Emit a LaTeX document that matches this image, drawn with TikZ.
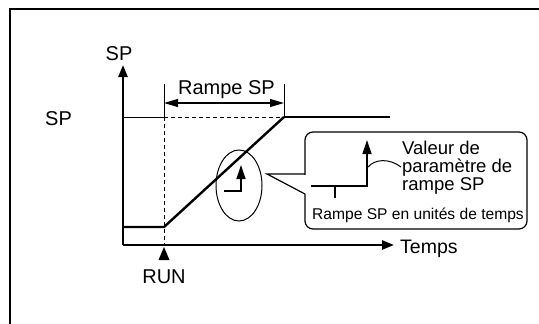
\documentclass[tikz,border=0pt]{standalone}
\usepackage{fontspec}
\setmainfont{Liberation Sans}
\usetikzlibrary{arrows.meta}
\newcommand\myfs[1]{\fontsize{#1}{#1}\selectfont}
\tikzset{
  thickln/.style={line width=2.4pt},
  thinln/.style={line width=1pt},
  dashln/.style={line width=1pt, dash pattern=on 4pt off 3pt},
  axisarrow/.style={thickln, -{Triangle[length=12pt,width=9pt]}},
  dimarrow/.style={line width=1.2pt, {Triangle[length=14pt,width=8pt]}-{Triangle[length=14pt,width=8pt]}},
  smallarrow/.style={line width=1.3pt, -{Triangle[length=14pt,width=9pt]}},
  lbl/.style={inner sep=0pt, font=\myfs{20}},
}
\begin{document}
\begin{tikzpicture}[x=1pt,y=-1pt]
\clip (0,0) rectangle (539,324);
\fill[white] (0,0) rectangle (539,324);
% outer frame (cropped at right and bottom)
\draw[line width=2pt] (9.5,340) -- (9.5,8.7) -- (560,8.7);
% named points
\coordinate (O) at (123,245);
\coordinate (ytip) at (123,65);
\coordinate (xtip) at (394,245);
\coordinate (lowL) at (123,227);
\coordinate (run) at (164,227);
\coordinate (runB) at (164,245);
\coordinate (spL) at (123,117);
\coordinate (spR) at (164,117);
\coordinate (top) at (284,117);
\coordinate (topEnd) at (390,117);
\coordinate (tk1a) at (164,84);
\coordinate (tk2a) at (284,84);
\coordinate (tk2b) at (284,116);
\coordinate (d1) at (164,103);
\coordinate (d2) at (284,103);
% axes
\draw[axisarrow] (O) -- (ytip);
\draw[axisarrow] (O) -- (xtip);
% SP level
\draw[thinln] (spL) -- (spR);
\draw[dashln] (spR) -- (top);
\draw[dashln] (spR) -- (runB);
\draw[thickln] (top) -- (topEnd);
% ramp
\draw[thickln, line join=round] (lowL) -- (run) -- (top);
% ticks and dimension
\draw[thinln] (tk1a) -- (spR);
\draw[thinln] (tk2a) -- (tk2b);
\draw[dimarrow] (d1) -- (d2);
% RUN marker
\fill (164,247) -- (158.5,260) -- (169.5,260) -- cycle;
% labels
\node[lbl, font=\myfs{20}, anchor=base] (spax) at (119,60) {SP};
\node[lbl, anchor=base west] (spleft) at (45,125) {SP};
\node[lbl, anchor=base] (rampe) at (226.5,94) {Rampe SP};
\node[lbl, anchor=base] (runlbl) at (164,283) {RUN};
\node[lbl, font=\myfs{19.5}, anchor=base west] (temps) at (400,253) {Temps};
% ellipse with small step
\draw[thinln] (239,185.5) ellipse [x radius=23, y radius=35.5];
\draw[line width=1.3pt] (224,191) -- (241,191);
\draw[smallarrow] (241,191.6) -- (241,165);
% callout box
\draw[line width=1.2pt, rounded corners=8pt] (305,132) rectangle (527,229);
\fill[white] (304,175) rectangle (306.5,193.5);
\draw[line width=1.2pt, line join=miter] (305,174) -- (267,174) -- (305,194);
% inner step
\draw[line width=1.3pt] (311,186) -- (367,186);
\draw[smallarrow] (367,186.6) -- (367,140);
\draw[line width=1.3pt] (335,186) -- (335,198);
\draw[thinln] (368,167) .. controls (375,159) and (389,158) .. (401,167);
\node[lbl, font=\myfs{18.5}, anchor=base west] (v1) at (402,154) {Valeur de};
\node[lbl, font=\myfs{18.5}, anchor=base west] (v2) at (402,172) {paramètre de};
\node[lbl, font=\myfs{18.5}, anchor=base west] (v3) at (402,190) {rampe SP};
\node[lbl, font=\myfs{15.6}, anchor=base west] (unit) at (312,219) {Rampe SP en unités de temps};
\end{tikzpicture}
\end{document}
